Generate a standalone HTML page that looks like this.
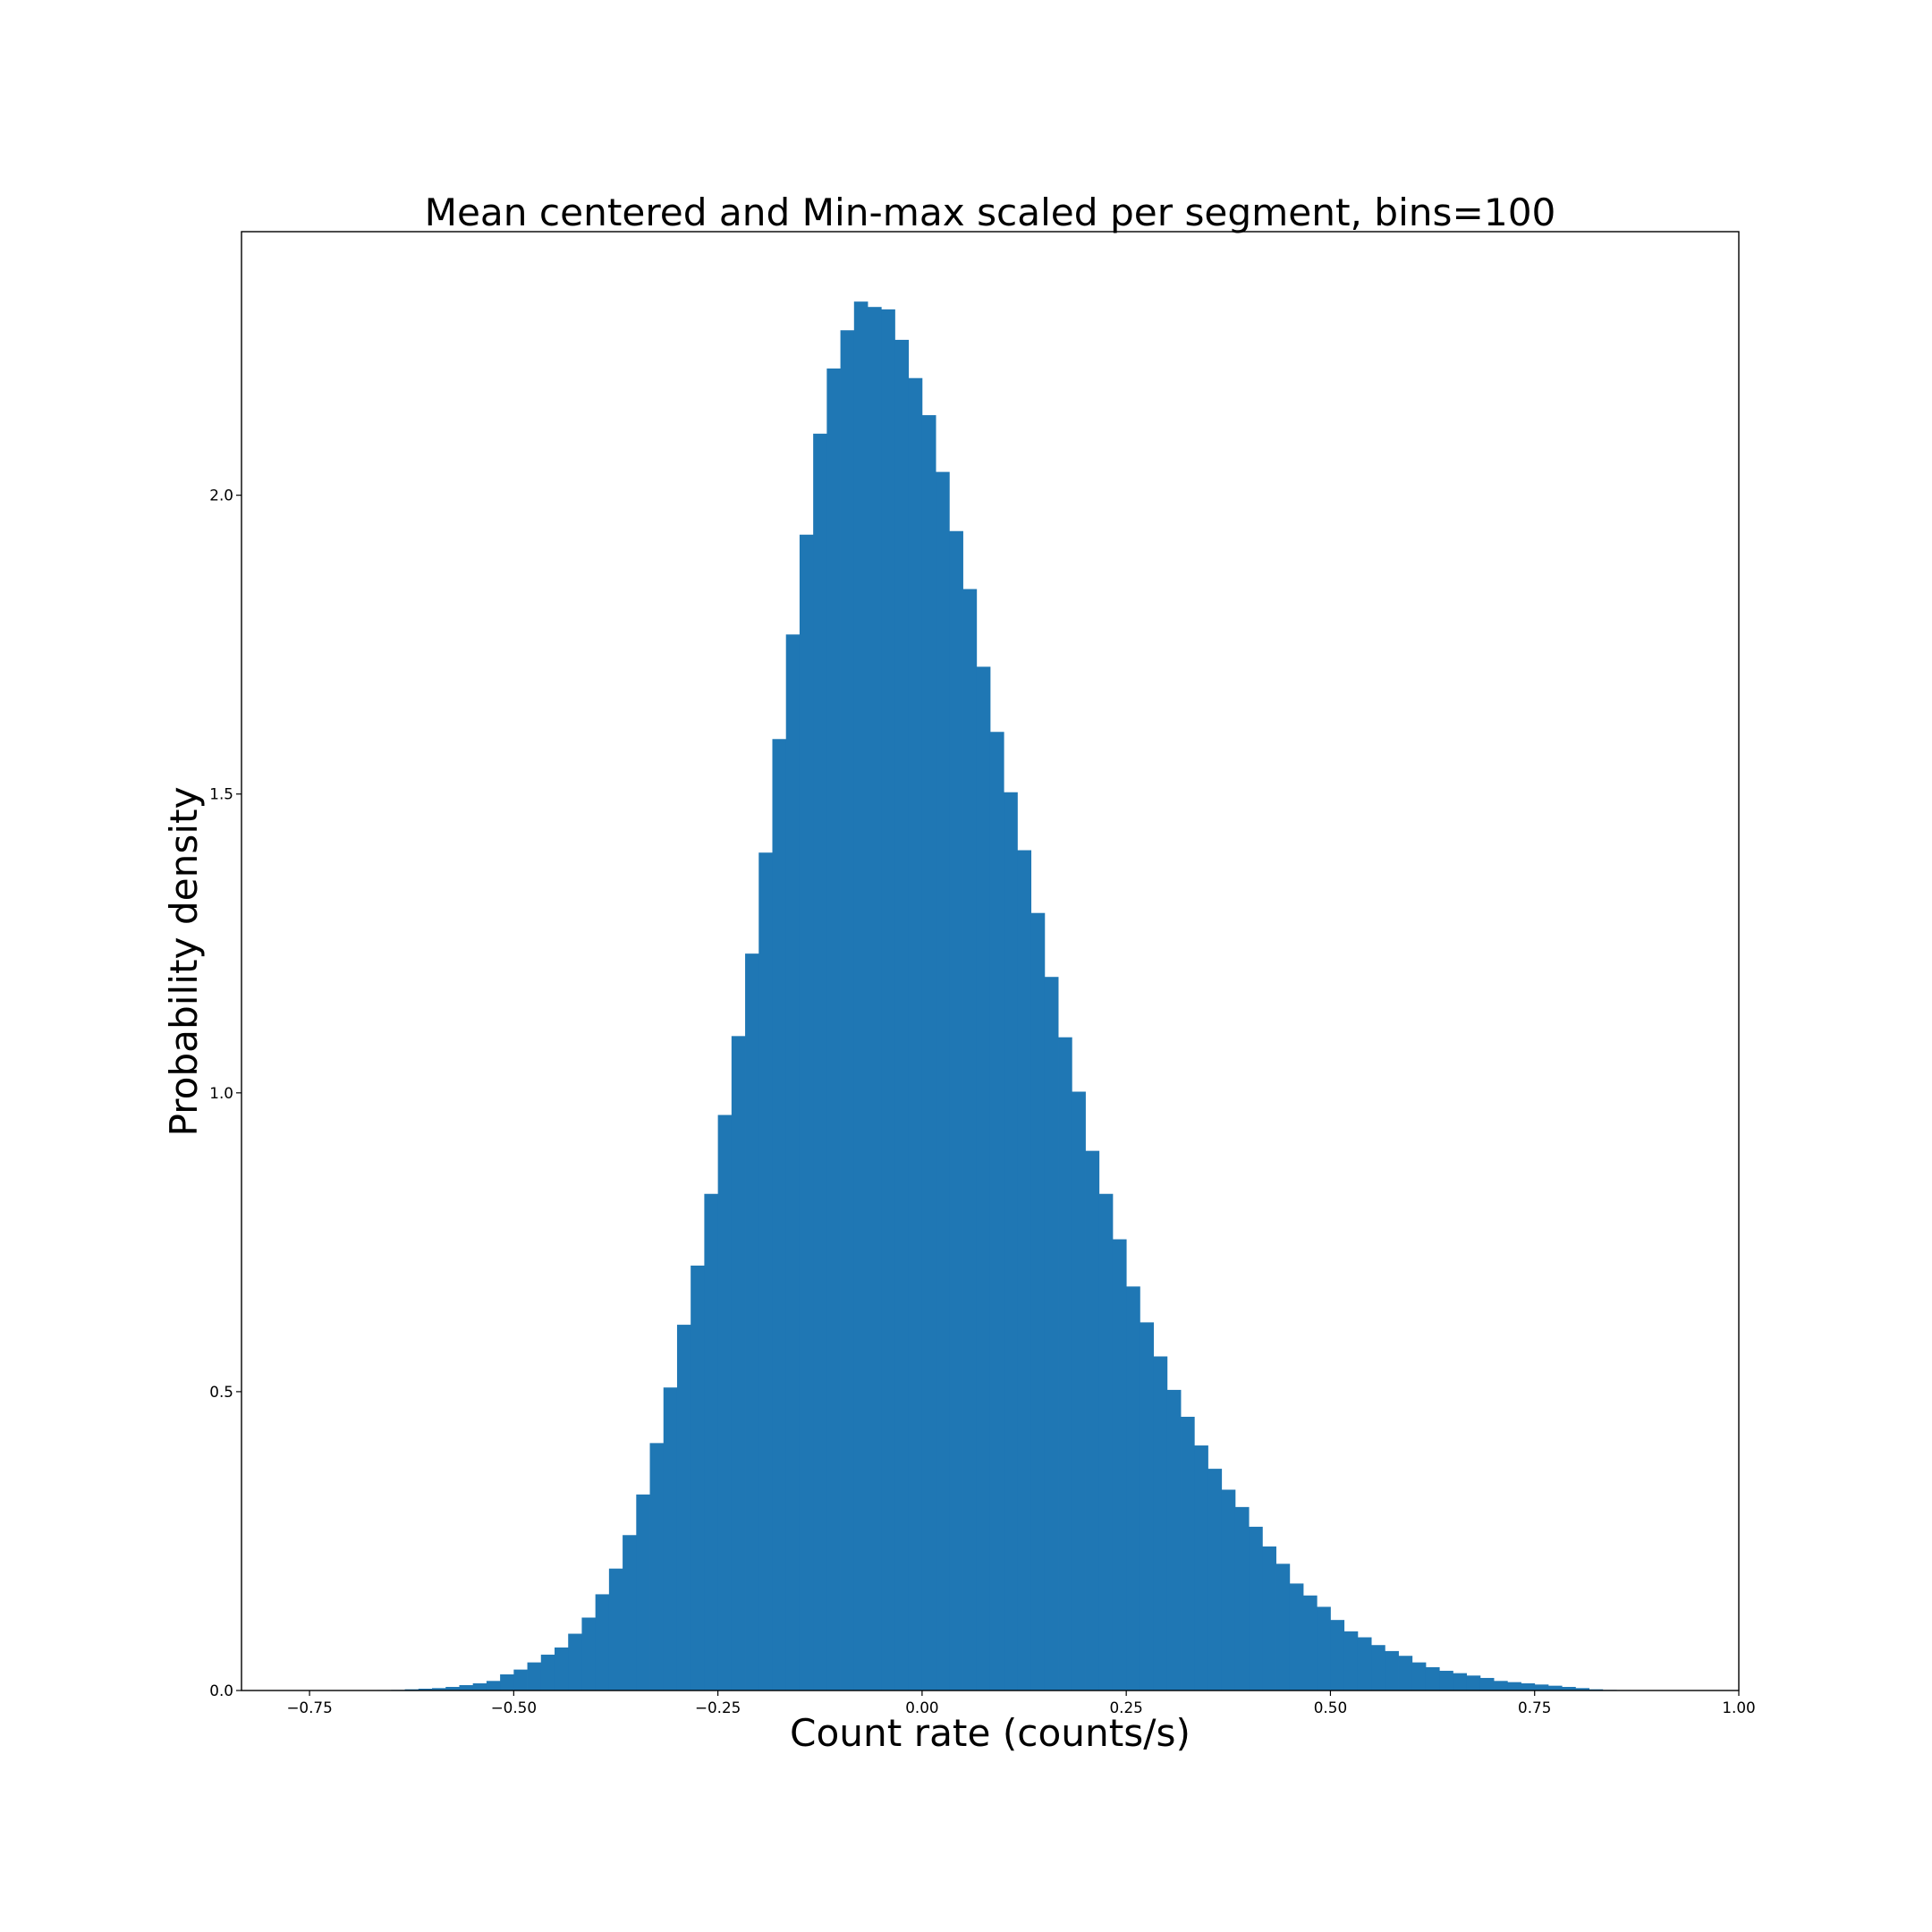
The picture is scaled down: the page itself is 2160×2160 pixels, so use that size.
<!DOCTYPE html>
<html><head><meta charset="utf-8"><style>
html,body{margin:0;padding:0;background:#fff;}
svg{display:block;font-family:"DejaVu Sans","Liberation Sans",sans-serif;}
</style></head><body>
<svg id="chart" width="2160" height="2160" viewBox="0 0 2160 2160" xmlns="http://www.w3.org/2000/svg">
<rect x="0" y="0" width="2160" height="2160" fill="#fff"/>
<text x="1107" y="252" font-size="42.2" text-anchor="middle">Mean centered and Min-max scaled per segment, bins=100</text>
<text x="1107" y="1952" font-size="42.2" text-anchor="middle">Count rate (counts/s)</text>
<text x="0" y="0" font-size="42.2" text-anchor="middle" transform="translate(220,1075) rotate(-90)">Probability density</text>
<g id="bars"></g>
<g id="xticks"></g>
<g id="yticks"></g>
<rect x="270" y="259" width="1674" height="1631" fill="none" stroke="#000" stroke-width="1.4"/>
</svg>
<script>
const binStart = -0.75;
const binWidth = 0.0166667;
const densities = [0,0,0.0002,0.0003,0.0005,0.0008,0.001,0.002,0.003,0.004,0.006,0.009,0.012,0.016,0.027,0.035,0.047,0.06,0.072,0.095,0.122,0.161,0.204,0.26,0.328,0.414,0.507,0.612,0.711,0.831,0.963,1.095,1.233,1.402,1.592,1.767,1.934,2.103,2.212,2.276,2.324,2.315,2.311,2.26,2.196,2.134,2.039,1.94,1.843,1.713,1.604,1.503,1.406,1.301,1.194,1.093,1.002,0.903,0.831,0.755,0.676,0.616,0.559,0.503,0.458,0.41,0.371,0.336,0.307,0.274,0.241,0.212,0.179,0.159,0.14,0.118,0.099,0.089,0.076,0.066,0.058,0.047,0.039,0.033,0.029,0.025,0.021,0.016,0.014,0.012,0.01,0.008,0.006,0.004,0.002,0.001,0.0008,0.0005,0.0003,0.0002];
const xTickValues = [-0.75,-0.5,-0.25,0,0.25,0.5,0.75,1.0];
const xTickLabels = ["\u22120.75","\u22120.50","\u22120.25","0.00","0.25","0.50","0.75","1.00"];
const yTickValues = [0,0.5,1.0,1.5,2.0];
const yTickLabels = ["0.0","0.5","1.0","1.5","2.0"];

const L=270,R=1944,T=259,B=1890;
const xMin=-0.8333,xMax=1.0,yMin=0,yMax=2.441;
const xs=v=>L+(v-xMin)/(xMax-xMin)*(R-L);
const ys=v=>B-(v-yMin)/(yMax-yMin)*(B-T);
const NS="http://www.w3.org/2000/svg";
const bars=document.getElementById('bars');
densities.forEach((d,i)=>{
  const x0=xs(binStart+i*binWidth), x1=xs(binStart+(i+1)*binWidth);
  const r=document.createElementNS(NS,'rect');
  r.setAttribute('x',x0);r.setAttribute('width',x1-x0+0.4);
  r.setAttribute('y',ys(d));r.setAttribute('height',B-ys(d));
  r.setAttribute('fill','#1f77b4');
  
  
  bars.appendChild(r);
});
const xg=document.getElementById('xticks');
xTickValues.forEach((v,i)=>{
  const x=xs(v);
  const l=document.createElementNS(NS,'line');
  l.setAttribute('x1',x);l.setAttribute('x2',x);l.setAttribute('y1',B);l.setAttribute('y2',B+6);
  l.setAttribute('stroke','#000');l.setAttribute('stroke-width','1.2');
  
  
  xg.appendChild(l);
  const t=document.createElementNS(NS,'text');
  t.setAttribute('x',x);t.setAttribute('y',B+25);t.setAttribute('font-size','16.8');t.setAttribute('text-anchor','middle');
  t.textContent=xTickLabels[i];
  
  
  xg.appendChild(t);
});
const yg=document.getElementById('yticks');
yTickValues.forEach((v,i)=>{
  const y=ys(v);
  const l=document.createElementNS(NS,'line');
  l.setAttribute('x1',L-6);l.setAttribute('x2',L);l.setAttribute('y1',y);l.setAttribute('y2',y);
  l.setAttribute('stroke','#000');l.setAttribute('stroke-width','1.2');
  
  
  yg.appendChild(l);
  const t=document.createElementNS(NS,'text');
  t.setAttribute('x',L-9);t.setAttribute('y',y+6);t.setAttribute('font-size','16.8');t.setAttribute('text-anchor','end');
  t.textContent=yTickLabels[i];
  
  
  yg.appendChild(t);
});
</script>
</body></html>
